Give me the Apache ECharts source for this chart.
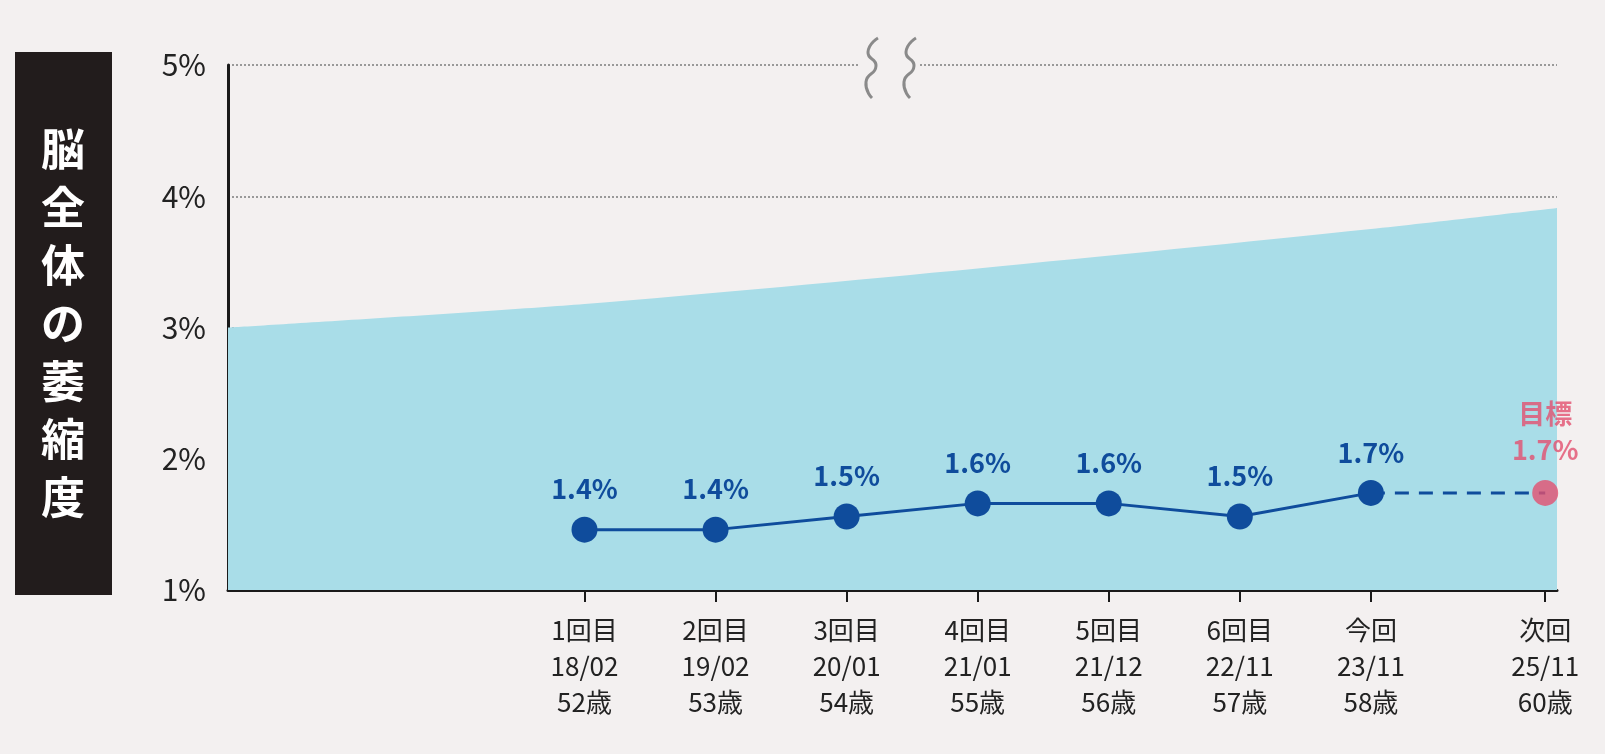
<!DOCTYPE html>
<html><head><meta charset="utf-8">
<script src="https://cdn.jsdelivr.net/npm/echarts@6/dist/echarts.min.js"></script>
<style>html,body{margin:0;background:#f3f0f0}#c{width:1605px;height:754px}</style>
</head><body><div id="c"></div>
<script>
// x positions in "slot" units
const catX = [2.72, 3.72, 4.72, 5.72, 6.72, 7.72, 8.72, 10.05];
const catLabels = ['1回目\n18/02\n52歳', '2回目\n19/02\n53歳', '3回目\n20/01\n54歳', '4回目\n21/01\n55歳',
  '5回目\n21/12\n56歳', '6回目\n22/11\n57歳', '今回\n23/11\n58歳', '次回\n25/11\n60歳'];
const measured = [1.46, 1.46, 1.56, 1.66, 1.66, 1.56, 1.74];
const measuredText = ['1.4%', '1.4%', '1.5%', '1.6%', '1.6%', '1.5%', '1.7%'];
const targetValue = 1.74;
const targetText = '目標\n1.7%';
const bandX = [0, 2.72, 5.72, 8.72, 10.14];
const bandTop = [3.0, 3.18, 3.45, 3.75, 3.91];

const chart = echarts.init(document.getElementById('c'));
const blue = '#0f4c9c', pink = '#e2506f';
chart.setOption({
  backgroundColor: '#f3f0f0',
  animation: false,
  grid: { left: 228, right: 48, top: 65, bottom: 164 },
  xAxis: {
    type: 'value', min: 0, max: 10.14,
    splitLine: { show: false },
    axisLine: { lineStyle: { color: '#1a1a1a', width: 3 } },
    axisTick: { show: true, customValues: catX, length: 12, lineStyle: { color: '#1a1a1a', width: 2 } },
    axisLabel: {
      customValues: catX, margin: 22, color: '#222', fontSize: 26, lineHeight: 36,
      fontFamily: 'Noto Sans CJK JP',
      formatter: v => { const i = catX.indexOf(v); return i >= 0 ? catLabels[i] : ''; }
    }
  },
  yAxis: {
    type: 'value', min: 1, max: 5, interval: 1,
    axisLine: { show: true, lineStyle: { color: '#1a1a1a', width: 3 } },
    axisTick: { show: false },
    axisLabel: { color: '#222', fontSize: 30, margin: 22, fontFamily: 'Noto Sans CJK JP', formatter: v => v + '%' },
    splitLine: { lineStyle: { color: '#999', type: 'dotted', width: 2 } }
  },
  graphic: [
    { type: 'rect', shape: { x: 15, y: 52, width: 97, height: 543 }, style: { fill: '#221c1c' } },
    { type: 'text', x: 63, y: 323, style: { text: '脳\n全\n体\nの\n萎\n縮\n度', fill: '#fff', fontSize: 44,
      lineHeight: 58, fontWeight: 'bold', fontFamily: 'Noto Sans CJK JP', align: 'center', verticalAlign: 'middle' } },
    { type: 'text', x: 285, y: 415, style: { text: '標準範囲', fill: '#1a4e9a', fontSize: 36, fontWeight: 'bold',
      fontFamily: 'Noto Sans CJK JP', verticalAlign: 'middle' } },
    { type: 'rect', z: 9, shape: { x: 860, y: 55, width: 60, height: 20 }, style: { fill: '#f3f0f0' } },
    { type: 'polyline', z: 10, shape: { points: [[878, 38], [868, 52], [876, 66], [866, 82], [872, 98]], smooth: 0.6 },
      style: { stroke: '#8a8a8a', lineWidth: 3, fill: null } },
    { type: 'polyline', z: 10, shape: { points: [[916, 38], [906, 52], [914, 66], [904, 82], [910, 98]], smooth: 0.6 },
      style: { stroke: '#8a8a8a', lineWidth: 3, fill: null } }
  ],
  series: [
    {
      type: 'line', data: bandX.map((x, i) => [x, bandTop[i]]), smooth: 0.3, symbol: 'none',
      lineStyle: { width: 0 }, areaStyle: { color: '#a9dde8', opacity: 1 }, z: 1
    },
    {
      type: 'line', data: measured.map((v, i) => [catX[i], v]), symbol: 'circle', symbolSize: 26,
      itemStyle: { color: blue }, lineStyle: { color: blue, width: 3 }, z: 5,
      label: { show: true, position: 'top', distance: 14, color: blue, fontSize: 27, fontWeight: 'bold',
        fontFamily: 'Noto Sans CJK JP', formatter: p => measuredText[p.dataIndex] }
    },
    {
      type: 'line', data: [[catX[6], measured[6]], [catX[7], targetValue]], symbol: 'none',
      lineStyle: { color: blue, width: 3, type: [14, 10] }, z: 4
    },
    {
      type: 'scatter', data: [[catX[7], targetValue]], symbolSize: 26, itemStyle: { color: pink }, z: 6,
      label: { show: true, position: 'top', distance: 12, color: pink, fontSize: 27, lineHeight: 36, fontWeight: 'bold',
        fontFamily: 'Noto Sans CJK JP', formatter: targetText }
    }
  ]
});
</script></body></html>
